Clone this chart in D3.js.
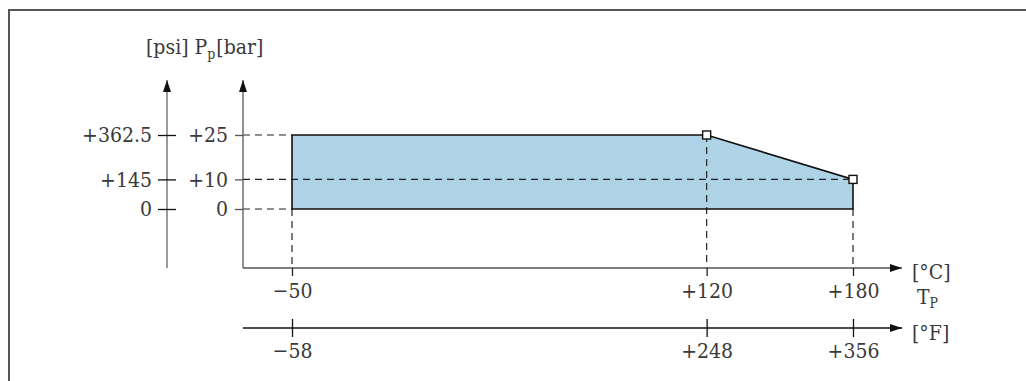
<!DOCTYPE html>
<html>
<head>
<meta charset="utf-8">
<script src="https://cdn.jsdelivr.net/npm/d3@7"></script>
<style>
  body { margin: 0; background: #fff; }
  text { font-family: "DejaVu Serif Condensed", "DejaVu Serif", serif; font-stretch: condensed; fill: #3a3a3a; }
</style>
</head>
<body>
<div id="chart"></div>
<script>
// chart values
var tempC = [-50, 120, 180];
var tempF = [-58, 248, 356];
var pressBar = [0, 10, 25];
var pressPsi = [0, 145, 362.5];
// envelope of allowed operating range (°C, bar)
var envC = [-50, -50, 120, 180, 180];
var envBar = [0, 25, 25, 10, 0];
// corner points marked with squares
var cornerC = [120, 180];
var cornerBar = [25, 10];

var width = 1026, height = 381;
var fontSize = 21;
var fontFam = '"DejaVu Serif Condensed", "DejaVu Serif", serif';

var svg = d3.select("#chart").append("svg")
    .attr("width", width)
    .attr("height", height);

// arrow head
svg.append("defs").append("marker")
    .attr("id", "arrow")
    .attr("viewBox", "0 0 12 8")
    .attr("refX", 12).attr("refY", 4)
    .attr("markerWidth", 12).attr("markerHeight", 8)
    .attr("markerUnits", "userSpaceOnUse")
    .attr("orient", "auto")
    .append("path")
    .attr("d", "M0,0 L12,4 L0,8 Z")
    .attr("fill", "#111");

// scales
var x = d3.scaleLinear().domain([-50, 180]).range([292, 853]);
var xF = d3.scaleLinear().domain([-58, 356]).range([292, 853]);
var y = d3.scaleLinear().domain([0, 25]).range([209, 135]);
var yPsi = d3.scaleLinear().domain([0, 362.5]).range([209, 135]);

var xAxisY = 268, fAxisY = 328;
var barX = 243, psiX = 167;

function fmt(v) {
    if (v > 0) return "+" + v;
    if (v < 0) return "\u2212" + Math.abs(v);
    return "0";
}

// frame
svg.append("path")
    .attr("d", "M9," + height + " V10 H" + width)
    .attr("fill", "none")
    .attr("stroke", "#555")
    .attr("stroke-width", 2);

// area
var envData = envC.map(function(c, i) { return [c, envBar[i]]; });
var line = d3.line().x(function(d) { return x(d[0]); }).y(function(d) { return y(d[1]); });

svg.append("path")
    .datum(envData)
    .attr("d", function(d) { return line(d) + "Z"; })
    .attr("fill", "#aed3e6")
    .attr("stroke", "none");

// dashed guide lines
var guides = svg.append("g")
    .attr("stroke", "#222")
    .attr("stroke-width", 1.2)
    .attr("stroke-dasharray", "7,5");

// horizontal guides: from bar axis to the envelope edge at the same pressure
pressBar.forEach(function(p) {
    var xe = p === 10 ? x(180) : x(-50);
    guides.append("line")
        .attr("x1", barX).attr("x2", xe)
        .attr("y1", y(p)).attr("y2", y(p));
});
// vertical guides: from envelope down to the temperature axis
var vTop = [0, 25, 0];
tempC.forEach(function(t, i) {
    guides.append("line")
        .attr("x1", x(t)).attr("x2", x(t))
        .attr("y1", y(vTop[i])).attr("y2", xAxisY);
});

// envelope outline
svg.append("path")
    .datum(envData)
    .attr("d", function(d) { return line(d) + "Z"; })
    .attr("fill", "none")
    .attr("stroke", "#111")
    .attr("stroke-width", 1.6);

// corner squares
svg.selectAll(".corner")
    .data(cornerC)
    .enter()
    .append("rect")
    .attr("class", "corner")
    .attr("x", function(d) { return x(d) - 4; })
    .attr("y", function(d, i) { return y(cornerBar[i]) - 4; })
    .attr("width", 8).attr("height", 8)
    .attr("fill", "#fff")
    .attr("stroke", "#111")
    .attr("stroke-width", 1.4);

// axis lines
svg.append("line")
    .attr("x1", psiX).attr("x2", psiX)
    .attr("y1", xAxisY).attr("y2", 80)
    .attr("stroke", "#666").attr("stroke-width", 1.3)
    .attr("marker-end", "url(#arrow)");

svg.append("line")
    .attr("x1", barX).attr("x2", barX)
    .attr("y1", xAxisY).attr("y2", 80)
    .attr("stroke", "#555").attr("stroke-width", 1.3)
    .attr("marker-end", "url(#arrow)");
svg.append("line")
    .attr("x1", barX).attr("x2", 902)
    .attr("y1", xAxisY).attr("y2", xAxisY)
    .attr("stroke", "#555").attr("stroke-width", 1.3)
    .attr("marker-end", "url(#arrow)");

svg.append("line")
    .attr("x1", barX).attr("x2", 902)
    .attr("y1", fAxisY).attr("y2", fAxisY)
    .attr("stroke", "#111").attr("stroke-width", 1.3)
    .attr("marker-end", "url(#arrow)");

function styleAxis(g, col) {
    g.select(".domain").remove();
    g.selectAll(".tick line").attr("stroke", col).attr("stroke-width", 1.3);
    g.selectAll(".tick text")
        .style("font-family", fontFam)
        .style("font-stretch", "condensed")
        .style("font-size", fontSize + "px")
        .attr("fill", "#3a3a3a");
}

// psi axis: ticks cross the line
svg.append("g")
    .attr("transform", "translate(" + (psiX + 9) + ",0)")
    .call(d3.axisLeft(yPsi).tickValues(pressPsi).tickSize(18).tickPadding(6).tickFormat(fmt))
    .call(styleAxis, "#111");

// bar axis
svg.append("g")
    .attr("transform", "translate(" + barX + ",0)")
    .call(d3.axisLeft(y).tickValues(pressBar).tickSize(8).tickPadding(7).tickFormat(fmt))
    .call(styleAxis, "#555");

// °C axis
svg.append("g")
    .attr("transform", "translate(0," + xAxisY + ")")
    .call(d3.axisBottom(x).tickValues(tempC).tickSize(8).tickPadding(7).tickFormat(fmt))
    .call(styleAxis, "#222");

// °F axis: ticks cross the line
svg.append("g")
    .attr("transform", "translate(0," + (fAxisY - 9) + ")")
    .call(d3.axisBottom(xF).tickValues(tempF).tickSize(18).tickPadding(6).tickFormat(fmt))
    .call(styleAxis, "#111");

// titles
var title = svg.append("text")
    .attr("x", 146).attr("y", 54)
    .style("font-size", fontSize + "px");
title.append("tspan").text("[psi] P");
title.append("tspan").attr("dy", 5).style("font-size", "14px").text("p");
title.append("tspan").attr("dy", -5).attr("dx", 1).text("[bar]");

svg.append("text")
    .attr("x", 912).attr("y", 279)
    .style("font-size", fontSize + "px")
    .text("[\u00b0C]");

var tp = svg.append("text")
    .attr("x", 917).attr("y", 304)
    .style("font-size", fontSize + "px")
    .attr("fill", "#666");
tp.append("tspan").text("T");
tp.append("tspan").attr("dy", 4).style("font-size", "14px").text("P");

svg.append("text")
    .attr("x", 912).attr("y", 340)
    .style("font-size", fontSize + "px")
    .text("[\u00b0F]");
</script>
</body>
</html>
